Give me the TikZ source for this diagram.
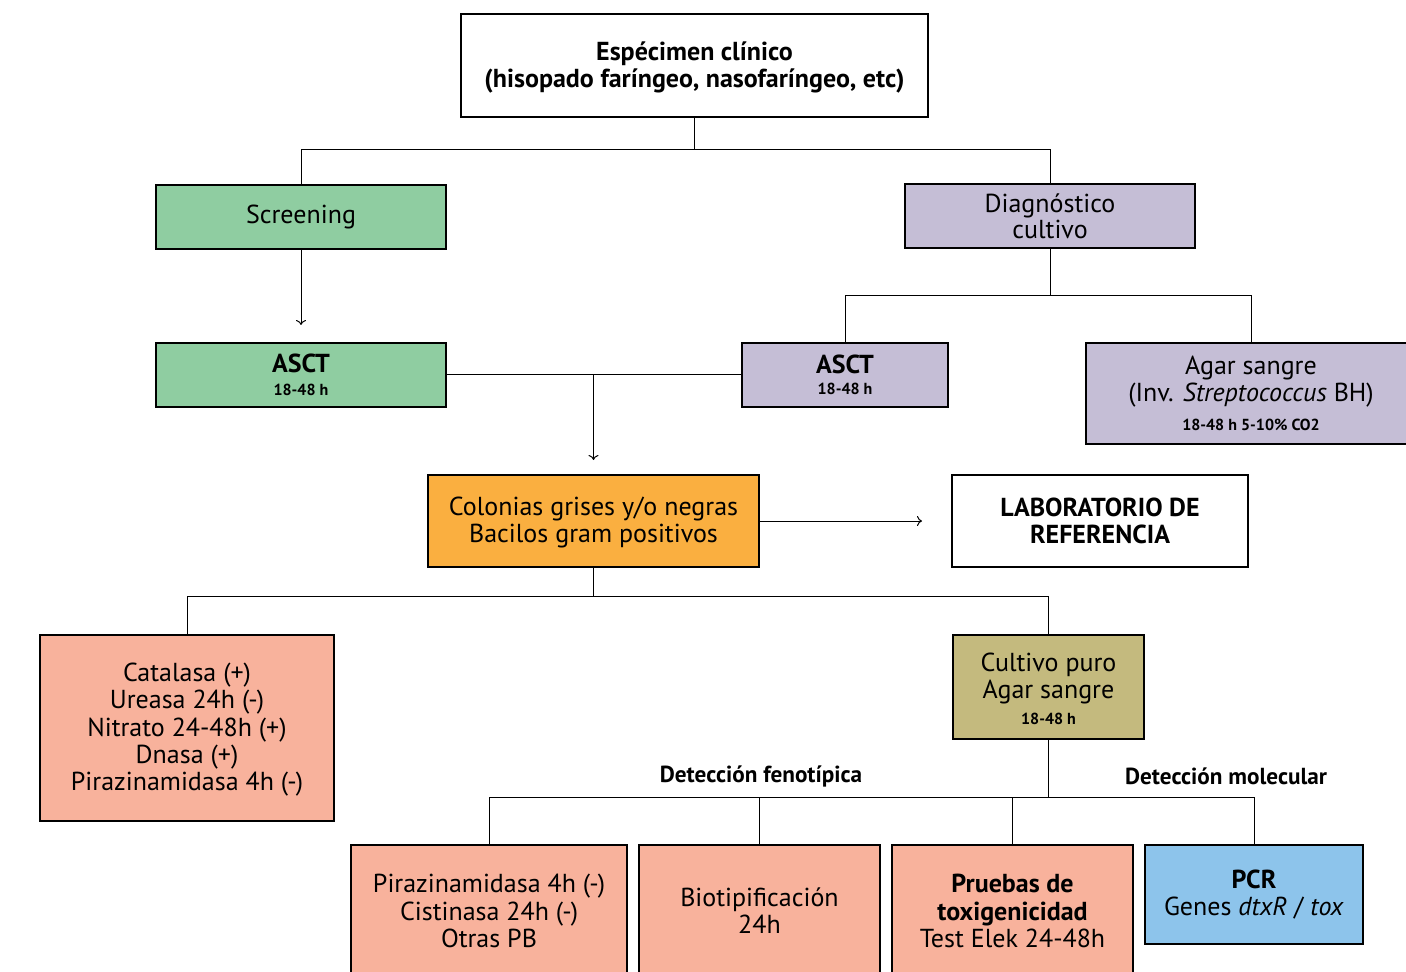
\documentclass[tikz,border=0pt]{standalone}
\usepackage{fontspec}
\setmainfont{PT Sans}
\usetikzlibrary{calc,arrows.meta}

\definecolor{screencol}{RGB}{143,205,161}
\definecolor{diagcol}{RGB}{197,190,214}
\definecolor{colcol}{RGB}{250,175,64}
\definecolor{pruebacol}{RGB}{248,178,156}
\definecolor{cultcol}{RGB}{196,186,126}
\definecolor{pcrcol}{RGB}{141,196,235}

\newcommand{\hrs}[1]{{\fontsize{8}{9}\selectfont\bfseries #1}}

\begin{document}
\begin{tikzpicture}[x=0.5pt, y=-0.5pt, line width=0.5pt,
    box/.style = {draw, line width=0.8pt, inner sep=0pt, align=center,
        font=\fontsize{13}{13.6}\selectfont},
    lbl/.style = {font=\fontsize{11.6}{13}\selectfont\bfseries},
    arr/.style = {-{To[length=2.5pt,width=5pt]}}]
\clip (0,0) rectangle (1406,972);
\useasboundingbox (0,0) rectangle (1406,972);

% nodes
\node[box, minimum width=233.5pt, minimum height=51.5pt, font=\fontsize{13}{13.6}\selectfont\bfseries] (spec) at (694.5,65.5)
    {\rule{0pt}{11pt}Espécimen clínico\\(hisopado faríngeo, nasofaríngeo, etc)};
\node[box, fill=screencol, minimum width=145pt, minimum height=32pt] (scr) at (301,217) {Screening};
\node[box, fill=diagcol, minimum width=145pt, minimum height=32pt, font=\fontsize{13}{11}\selectfont] (diag) at (1050,216) {Diagnóstico\\cultivo};
\node[box, fill=screencol, minimum width=145pt, minimum height=32pt] (asct1) at (301,375)
    {\textbf{ASCT}\\[-2pt]\hrs{18-48 h}};
\node[box, fill=diagcol, minimum width=103pt, minimum height=32pt] (asct2) at (845,375)
    {\textbf{ASCT}\\[-3pt]\hrs{18-48 h}};
\node[box, fill=diagcol, minimum width=165pt, minimum height=50.5pt] (agar) at (1251,393.5)
    {Agar sangre\\(Inv. \textit{Streptococcus} BH)\\[1pt]\hrs{18-48 h 5-10\% CO2}};
\node[box, fill=colcol, minimum width=165.5pt, minimum height=46pt] (col) at (593.5,521)
    {\rule{0pt}{11pt}Colonias grises y/o negras\\Bacilos gram positivos};
\node[box, minimum width=148pt, minimum height=46pt, font=\fontsize{13}{13.6}\selectfont\bfseries] (lab) at (1100,521)
    {LABORATORIO DE\\REFERENCIA};
\node[box, fill=pruebacol, minimum width=147pt, minimum height=93pt] (cat) at (187,728)
    {\rule{0pt}{11pt}Catalasa (+)\\Ureasa 24h (-)\\Nitrato 24-48h (+)\\Dnasa (+)\\Pirazinamidasa 4h (-)};
\node[box, fill=cultcol, minimum width=95.5pt, minimum height=52pt] (cult) at (1048.5,687)
    {\rule{0pt}{11pt}Cultivo puro\\Agar sangre\\[-1pt]\hrs{18-48 h}};
\node[box, fill=pruebacol, minimum width=138pt, minimum height=66pt] (pir) at (489,911)
    {Pirazinamidasa 4h (-)\\Cistinasa 24h (-)\\Otras PB};
\node[box, fill=pruebacol, minimum width=120.5pt, minimum height=66pt] (bio) at (759.5,911)
    {Biotipificación\\24h};
\node[box, fill=pruebacol, minimum width=120.5pt, minimum height=66pt] (tox) at (1012.5,911)
    {\textbf{Pruebas de}\\\textbf{toxigenicidad}\\Test Elek 24-48h};
\node[box, fill=pcrcol, minimum width=109pt, minimum height=49.5pt] (pcr) at (1254,894.5)
    {\textbf{PCR}\\Genes \textit{dtxR} / \textit{tox}};

\node[lbl] (feno) at (761,776) {Detección fenotípica};
\node[lbl] (mol) at (1226,776) {Detección molecular};

% connectors
\coordinate (j1) at (694.5,150);
\coordinate (j2) at (1050,296);
\coordinate (j3) at (593.5,375);
\coordinate (j4) at (593.5,596);
\coordinate (j5) at (1048.5,797);
\coordinate (endscr) at (301,325);
\coordinate (endcol) at (593.5,460);
\coordinate (endlab) at (922,521);

\draw (spec.south) -- (j1);
\draw (j1) -| (scr.north);
\draw (j1) -| (diag.north);
\draw[arr] (scr.south) -- (endscr);
\draw (diag.south) -- (j2);
\draw (j2) -| (asct2.north);
\draw (j2) -| (agar.north);
\draw (asct1.east) -- (asct2.west);
\draw[arr] (j3) -- (endcol);
\draw[arr] (col.east) -- (endlab);
\draw (col.south) -- (j4);
\draw (j4) -| (cat.north);
\draw (j4) -| (cult.north);
\draw (cult.south) -- (j5);
\draw (j5) -| (pir.north);
\draw (j5) -| (pcr.north);
\draw (bio.north) -- (bio.north |- j5);
\draw (tox.north) -- (tox.north |- j5);
\end{tikzpicture}
\end{document}
